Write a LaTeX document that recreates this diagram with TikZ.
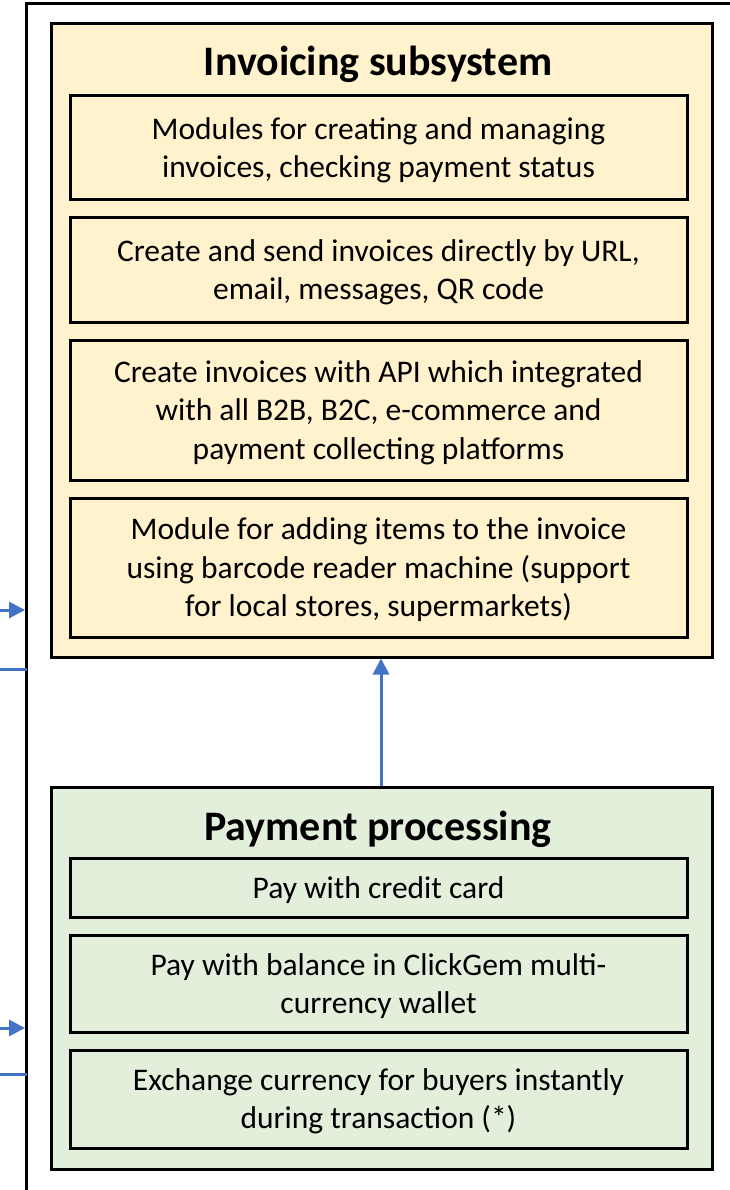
\documentclass[tikz,border=0pt]{standalone}
\usepackage{fontspec}
\setmainfont{Carlito}
\usetikzlibrary{arrows.meta}
\definecolor{inv}{HTML}{FFF2CC}
\definecolor{pay}{HTML}{E2EFDA}
\definecolor{arr}{HTML}{4472C4}
\tikzset{
  outerbox/.style={draw=black, line width=3pt, inner sep=0pt},
  innerbox/.style={draw=black, line width=3pt, inner sep=0pt},
  body/.style={font=\fontsize{31.5}{38.5}\selectfont, align=center, inner sep=0pt, yshift=-2.5pt},
  ttl/.style={font=\fontsize{42}{46}\selectfont\bfseries, inner sep=0pt, yshift=-2pt},
  link/.style={draw=arr, line width=3pt},
  linkarrow/.style={link, -{Triangle[length=16pt,width=16pt]}}
}
\begin{document}
\begin{tikzpicture}[x=1pt,y=-1pt]
\useasboundingbox (0,0) rectangle (730,1190);
% outer frame
\coordinate (fb) at (26.5,1190);
\coordinate (ft) at (26.5,3.5);
\coordinate (fr) at (730,3.5);
\draw[line width=3pt] (fb) -- (ft) -- (fr);
% invoicing subsystem
\node[outerbox, fill=inv, minimum width=661pt, minimum height=633pt] (invbox) at (381.5,340.5) {};
\node[ttl] (invt) at (378,62) {Invoicing subsystem};
\node[innerbox, fill=inv, minimum width=617pt, minimum height=104pt] (i1) at (378.5,148) {};
\node[body] at (i1) {Modules for creating and managing\\invoices, checking payment status};
\node[innerbox, fill=inv, minimum width=617pt, minimum height=104pt] (i2) at (378.5,270) {};
\node[body] at (i2) {Create and send invoices directly by URL,\\email, messages, QR code};
\node[innerbox, fill=inv, minimum width=617pt, minimum height=140pt] (i3) at (378.5,410) {};
\node[body] at (i3) {Create invoices with API which integrated\\with all B2B, B2C, e-commerce and\\payment collecting platforms};
\node[innerbox, fill=inv, minimum width=617pt, minimum height=139pt] (i4) at (378.5,567.5) {};
\node[body] at (i4) {Module for adding items to the invoice\\using barcode reader machine (support\\for local stores, supermarkets)};
% payment processing
\node[outerbox, fill=pay, minimum width=661pt, minimum height=382pt] (paybox) at (381.5,978) {};
\node[ttl] (payt) at (378,827) {Payment processing};
\node[innerbox, fill=pay, minimum width=617pt, minimum height=59pt] (p1) at (378.5,887.5) {};
\node[body] at (p1) {Pay with credit card};
\node[innerbox, fill=pay, minimum width=617pt, minimum height=97pt] (p2) at (378.5,983.5) {};
\node[body] at (p2) {Pay with balance in ClickGem multi-\\currency wallet};
\node[innerbox, fill=pay, minimum width=617pt, minimum height=98pt] (p3) at (378.5,1099) {};
\node[body] at (p3) {Exchange currency for buyers instantly\\during transaction (*)};
% connector between subsystems
\draw[linkarrow] (paybox.north -| 381,0) -- (invbox.south -| 381,0);
% left side connectors
\coordinate (a1) at (0,610);
\coordinate (a1e) at (25,610);
\coordinate (l1) at (0,669);
\coordinate (l1e) at (26.5,669);
\coordinate (a2) at (0,1028);
\coordinate (a2e) at (25,1028);
\coordinate (l2) at (0,1074);
\coordinate (l2e) at (26.5,1074);
\draw[linkarrow] (a1) -- (a1e);
\draw[link] (l1) -- (l1e);
\draw[linkarrow] (a2) -- (a2e);
\draw[link] (l2) -- (l2e);
\end{tikzpicture}
\end{document}
